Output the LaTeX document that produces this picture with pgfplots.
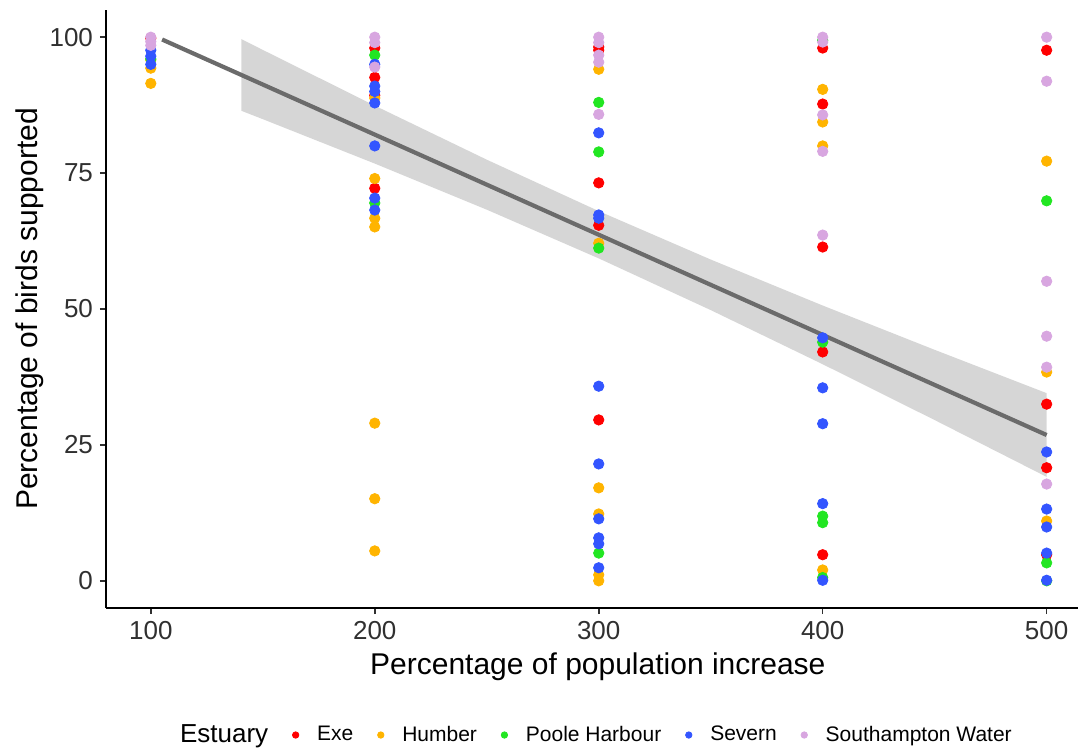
\documentclass[border=0pt]{standalone}
\usepackage{pgfplots}
\pgfplotsset{compat=1.18}
\usepackage{fontspec}
\setmainfont{Liberation Sans}
\definecolor{exe}{HTML}{FF0000}
\definecolor{humber}{HTML}{FFB400}
\definecolor{poole}{HTML}{22E622}
\definecolor{severn}{HTML}{3355FF}
\definecolor{soton}{HTML}{D8A6E0}
\definecolor{ticktext}{HTML}{303030}
\begin{document}
\begin{tikzpicture}
\useasboundingbox (-53pt,-70.5pt) rectangle (487pt,304pt);
\begin{axis}[
  at={(0,0)}, anchor=south west,
  scale only axis, width=486pt, height=299pt,
  xmin=80, xmax=514, ymin=-5, ymax=105,
  axis lines*=left,
  axis line style={black, line width=0.8pt},
  tick align=outside, major tick length=3pt,
  tick style={ticktext, line width=0.8pt},
  xtick={100,200,300,400,500}, ytick={0,25,50,75,100},
  /pgf/number format/assume math mode=true,
  ticklabel style={font=\fontsize{13}{15}\selectfont, text=ticktext},
  xlabel={Percentage of population increase},
  ylabel={Percentage of birds supported},
  label style={font=\fontsize{15}{18}\selectfont},
  xlabel style={at={(axis description cs:0.506,-0.0987)}, anchor=center},
  ylabel style={at={(axis description cs:-0.0782,0.5)}, anchor=center},
  legend style={at={(0.504,-0.2124)}, anchor=center, draw=none, fill=none,
    font=\fontsize{10.5}{12}\selectfont,
    /tikz/every even column/.append style={column sep=3pt}},
  legend columns=6,
  clip=false,
  scatter/.style={only marks, mark=*, mark size=2.6pt, forget plot},
]
% Exe
\addplot[scatter, color=exe] coordinates {
 (100,99.8)
 (200,98) (200,92.6) (200,89.3) (200,72.2)
 (300,98.2) (300,97.6) (300,73.2) (300,65.4) (300,29.6)
 (400,98) (400,87.7) (400,61.4) (400,42.1) (400,4.8)
 (500,97.6) (500,32.5) (500,20.8) (500,4.8)
};
% Humber
\addplot[scatter, color=humber] coordinates {
 (100,95.8) (100,94.3) (100,91.5)
 (200,88.8) (200,74) (200,66.7) (200,65.1) (200,29.0) (200,15.1) (200,5.5)
 (300,94.1) (300,62.1) (300,17.1) (300,12.3) (300,1.1) (300,0)
 (400,90.4) (400,84.4) (400,80) (400,2.0)
 (500,77.2) (500,38.4) (500,11)
};
% Poole Harbour
\addplot[scatter, color=poole] coordinates {
 (100,96)
 (200,96.7) (200,69.5)
 (300,88) (300,78.9) (300,61.2) (300,5.1)
 (400,99.4) (400,43.9) (400,11.9) (400,10.7) (400,0.6)
 (500,69.9) (500,3.3) (500,0)
};
% Severn
\addplot[scatter, color=severn] coordinates {
 (100,97.6) (100,96.5) (100,95)
 (200,95) (200,91) (200,90) (200,87.9) (200,80) (200,70.4) (200,68.2)
 (300,82.4) (300,67.3) (300,66.7) (300,35.8) (300,21.5) (300,11.4) (300,7.9) (300,6.8) (300,2.4)
 (400,44.7) (400,35.5) (400,28.9) (400,14.2) (400,0.1)
 (500,23.7) (500,13.2) (500,9.9) (500,5.1) (500,0.1)
};
% Southampton Water
\addplot[scatter, color=soton] coordinates {
 (100,100) (100,99.2) (100,98.5)
 (200,100) (200,99) (200,94.5)
 (300,100) (300,99) (300,96.7) (300,95.4) (300,85.8)
 (400,100) (400,99.1) (400,85.7) (400,79) (400,63.6)
 (500,100) (500,91.9) (500,55.1) (500,45) (500,39.3) (500,17.8)
};
% confidence ribbon
\addplot[draw=none, fill=black!40, fill opacity=0.4, forget plot] coordinates {
 (140.5,99.63) (150,97.66) (200,87.41) (250,77.47) (300,68.01) (350,59.10) (400,50.64) (450,42.49) (500,34.52)
 (500,19.12) (450,29.57) (400,39.84) (350,49.80) (300,59.31) (250,68.27) (200,76.75) (150,84.92) (140.5,86.45)
} -- cycle;
% regression line
\addplot[no marks, color=black!58, line width=2.1pt, forget plot] coordinates {(105.06,99.57) (500,26.82)};
% legend
\addlegendimage{empty legend}
\addlegendentry{\fontsize{13}{15}\selectfont Estuary}
\addlegendimage{legend image code/.code={\path (0,0) (0.6cm,0); \fill[exe] (0.3cm,0) circle (1.6pt);}}
\addlegendentry{Exe}
\addlegendimage{legend image code/.code={\path (0,0) (0.6cm,0); \fill[humber] (0.3cm,0) circle (1.6pt);}}
\addlegendentry{Humber}
\addlegendimage{legend image code/.code={\path (0,0) (0.6cm,0); \fill[poole] (0.3cm,0) circle (1.6pt);}}
\addlegendentry{Poole Harbour}
\addlegendimage{legend image code/.code={\path (0,0) (0.6cm,0); \fill[severn] (0.3cm,0) circle (1.6pt);}}
\addlegendentry{Severn}
\addlegendimage{legend image code/.code={\path (0,0) (0.6cm,0); \fill[soton] (0.3cm,0) circle (1.6pt);}}
\addlegendentry{Southampton Water}
\end{axis}
\end{tikzpicture}
\end{document}
